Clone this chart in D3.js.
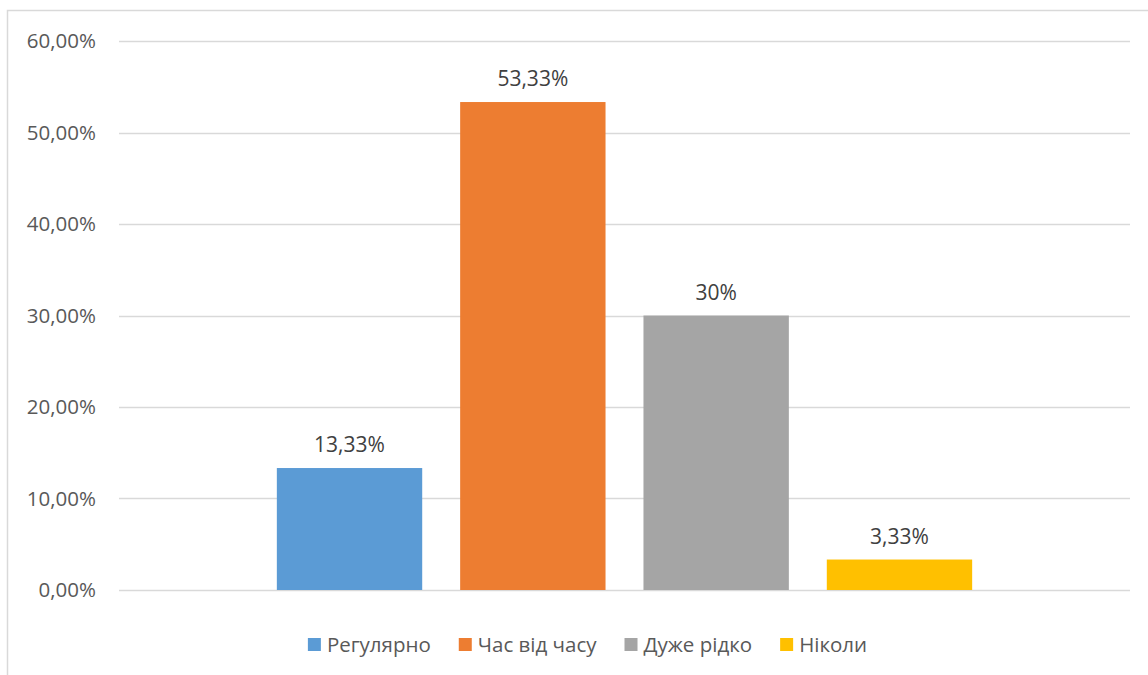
<!DOCTYPE html>
<html>
<head>
<meta charset="utf-8">
<script src="https://cdn.jsdelivr.net/npm/d3@7"></script>
<style>
  body { margin: 0; background: #fff; }
  svg { display: block; font-family: "Open Sans", sans-serif; }
</style>
</head>
<body>
<svg id="chart" width="1148" height="675"></svg>
<script>
const series = ["Регулярно", "Час від часу", "Дуже рідко", "Ніколи"];
const values = [0.1333, 0.5333, 0.30, 0.0333];
const labels = ["13,33%", "53,33%", "30%", "3,33%"];
const colors = ["#5B9BD5", "#ED7D31", "#A5A5A5", "#FFC000"];
const yTicks = [0, 0.1, 0.2, 0.3, 0.4, 0.5, 0.6];

const svg = d3.select("#chart");
const plot = { left: 119, right: 1130, top: 41, bottom: 590 };

// chart frame (runs past right/bottom edge like the source)
svg.append("rect")
    .attr("x", 7.5).attr("y", 10.5)
    .attr("width", 1160).attr("height", 700)
    .attr("fill", "none")
    .attr("stroke", "#d9d9d9")
    .attr("stroke-width", 1.5);

const y = d3.scaleLinear().domain([0, 0.6]).range([plot.bottom, plot.top]);
const x = d3.scaleBand()
    .domain(series)
    .range([plot.left, plot.right])
    .paddingInner(0.207)
    .paddingOuter(0.861);

const fmt = v => (v * 100).toFixed(2).replace(".", ",") + "%";

// gridlines
svg.append("g").selectAll("line")
    .data(yTicks)
    .join("line")
    .attr("x1", plot.left).attr("x2", plot.right)
    .attr("y1", d => Math.round(y(d)) + 0.5)
    .attr("y2", d => Math.round(y(d)) + 0.5)
    .attr("stroke", "#d9d9d9")
    .attr("stroke-width", 1.5);

// y labels
svg.append("g").selectAll("text")
    .data(yTicks)
    .join("text")
    .attr("x", 96)
    .attr("y", d => y(d) + 7)
    .attr("text-anchor", "end")
    .attr("font-size", 20.5)
    .attr("fill", "#595959")
    .text(fmt);

// bars
svg.append("g").selectAll("rect")
    .data(series)
    .join("rect")
    .attr("x", d => x(d))
    .attr("width", x.bandwidth())
    .attr("y", (d, i) => y(values[i]))
    .attr("height", (d, i) => plot.bottom - y(values[i]))
    .attr("fill", (d, i) => colors[i]);

// data labels
svg.append("g").selectAll("text")
    .data(series)
    .join("text")
    .attr("x", d => x(d) + x.bandwidth() / 2)
    .attr("y", (d, i) => y(values[i]) - 16)
    .attr("text-anchor", "middle")
    .attr("font-size", 21)
    .attr("fill", "#404040")
    .text((d, i) => labels[i]);

// legend
const legend = svg.append("g");
const items = legend.selectAll("g")
    .data(series)
    .join("g");
items.append("rect")
    .attr("width", 13).attr("height", 13)
    .attr("y", 638)
    .attr("fill", (d, i) => colors[i]);
items.append("text")
    .attr("x", 19)
    .attr("y", 652)
    .attr("font-size", 20.5)
    .attr("fill", "#595959")
    .text(d => d);

let offset = 0;
const pos = [];
const gap = 28;
items.each(function() {
    const w = 19 + d3.select(this).select("text").node().getComputedTextLength();
    pos.push(offset);
    offset += w + gap;
});
const total = offset - gap;
const start = 587.5 - total / 2;
items.attr("transform", (d, i) => `translate(${start + pos[i]},0)`);
</script>
</body>
</html>
